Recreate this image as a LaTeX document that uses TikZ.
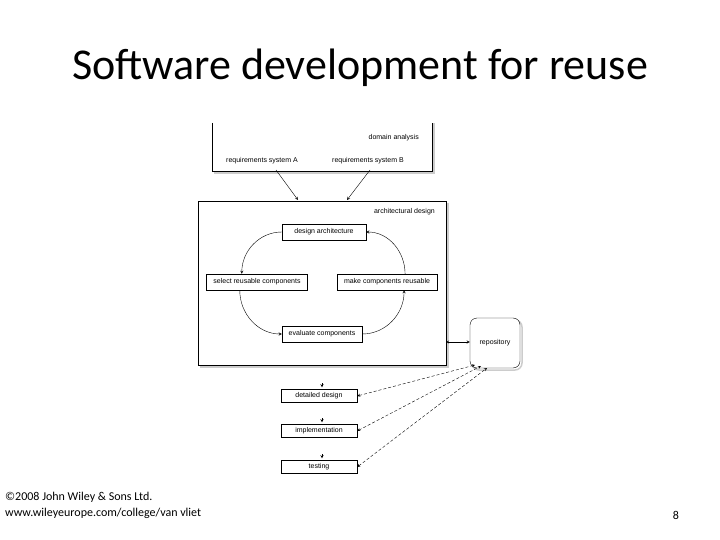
\documentclass[tikz,border=0pt]{standalone}
\usepackage{fontspec}
\setmainfont{Carlito}
\newfontfamily\diagfont{Liberation Sans}
\usetikzlibrary{arrows,shapes,calc,positioning}
\begin{document}
\begin{tikzpicture}[x=1pt,y=-1pt]
  \tikzstyle{every node} = [inner sep=1pt]
  \tikzstyle{task} = [draw, minimum height=16pt, font=\diagfont\fontsize{7}{8}\selectfont]
  \tikzstyle{lbl} = [font=\diagfont\fontsize{7}{8}\selectfont]
  \tikzstyle{flow} = [->, >=stealth, thin]

  \useasboundingbox (0,0) rectangle (720,540);

  % title and footer
  \node (title) at (360,68) {\fontsize{44}{50}\selectfont Software development for reuse};
  \node[anchor=west, font=\fontsize{12}{14}\selectfont] (copy) at (4,497) {\textcopyright 2008 John Wiley \& Sons Ltd.};
  \node[anchor=west, font=\fontsize{12}{14}\selectfont] (web) at (4,513) {www.wileyeurope.com/college/van vliet};
  \node[font=\fontsize{12}{14}\selectfont] (page) at (676,515) {8};

  % domain analysis
  \draw[gray!40, line width=1.5pt] (214,173) -- (434,173) -- (434,123);
  \draw[fill=white] (212,123) -- (212,171) -- (432,171) -- (432,123);
  \node[lbl, anchor=east] (dom) at (420,138) {domain analysis};
  \node[lbl] (reqA) at (262,161) {requirements system A};
  \node[lbl] (reqB) at (368,161) {requirements system B};

  % architectural design
  \draw[gray!40, line width=1.5pt] (200,367) -- (448,367) -- (448,203);
  \draw[fill=white] (198,201) rectangle (446,365);
  \coordinate (archR) at (446,342);
  \coordinate (archA) at (298,200);
  \coordinate (archB) at (347,200);
  \node[lbl, anchor=east] (arch) at (436,212) {architectural design};
  \draw[flow] (276,170) -- (archA);
  \draw[flow] (370,170) -- (archB);

  \node[task, minimum width=84pt] (design) at (324,232) {design architecture};
  \node[task, minimum width=101pt] (select) at (257,282) {select reusable components};
  \node[task, minimum width=100pt] (make) at (387,282) {make components reusable};
  \node[task, minimum width=80pt] (eval) at (322,334) {evaluate components};

  \draw[flow] (design.west) to[out=180, in=90] ($(select.north west)!0.35!(select.north east)$);
  \draw[flow] ($(select.south west)!0.33!(select.south east)$) to[out=-90, in=180] (eval.west);
  \draw[flow] (eval.east) to[out=0, in=-90] ($(make.south west)!0.67!(make.south east)$);
  \draw[flow] ($(make.north west)!0.68!(make.north east)$) to[out=90, in=0] (design.east);

  % repository
  \draw[gray!40, line width=1.5pt, rounded corners=7pt] (472,320) rectangle (522,370);
  \node[draw, fill=white, rounded corners=7pt, minimum width=50pt, minimum height=50pt, lbl] (repo) at (495,343) {repository};
  \draw[flow, <->] (archR) -- (repo.west |- archR);

  % later stages
  \node[task, minimum width=76pt, minimum height=13pt] (detail) at (319,396) {detailed design};
  \node[task, minimum width=76pt, minimum height=13pt] (impl) at (319,431) {implementation};
  \node[task, minimum width=76pt, minimum height=13pt] (test) at (319,467) {testing};

  \foreach \n in {detail, impl, test}
    \draw[flow, shorten >=2pt] ($(\n.north)+(3,-6)$) -- ($(\n.north)+(3,0)$);

  \draw[flow, <->, densely dashed] (detail.east) -- (475,365);
  \draw[flow, <->, densely dashed] (impl.east) -- (481,366);
  \draw[flow, <->, densely dashed] (test.east) -- (487,368);
\end{tikzpicture}
\end{document}
